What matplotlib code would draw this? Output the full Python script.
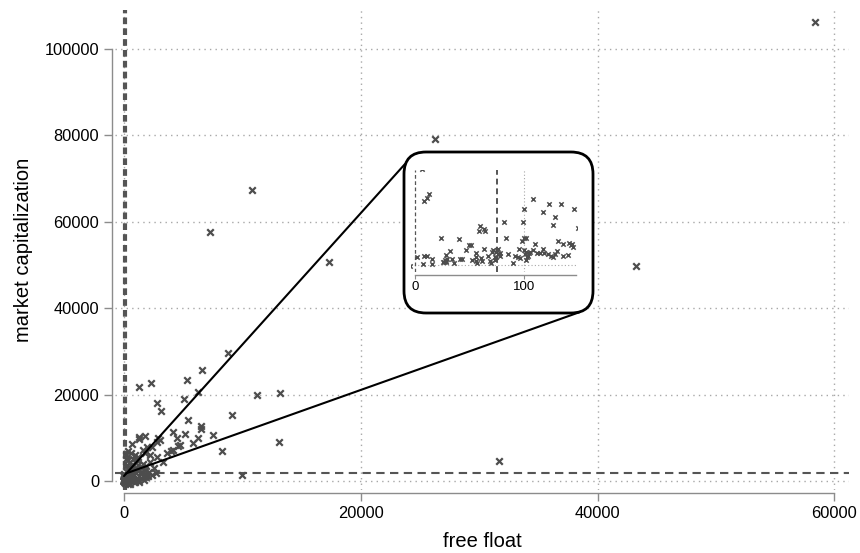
import matplotlib
matplotlib.use('Agg')
import matplotlib.pyplot as plt
import numpy as np
from matplotlib.patches import FancyBboxPatch, ConnectionPatch

plt.rcParams['font.family'] = ['Liberation Sans', 'DejaVu Sans']

# ---- data: firms with small free float (shown in the zoom inset) ----
ff_small = [-4.6, 6.4, 8.3, 10.4, 12.8, 1.5, 8.3, 10.4, 7.0, 15.6, 15.6, 23.9, 26.0, 27.8,
            25.1, 26.9, 28.1, 28.1, 29.4, 32.1, 33.6, 35.8,
            39.8, 41.3, 42.5, 46.2, 48.9, 51.4, 52.3,
            56.0, 56.0, 56.0, 56.9, 59.0, 58.1, 62.7, 63.6, 60.9, 59.9, 63.3,
            67.0, 68.8, 70.3, 71.3, 72.8, 73.4, 74.0, 74.9, 75.8, 77.4, 78.0, 74.3, 75.5, 69.4,
            81.0, 83.5, 85.0, 89.3, 91.7, 93.9, 96.3, 95.1,
            97.9, 100.0, 101.8, 98.5, 99.4, 100.3, 101.8, 102.4, 104.0, 105.5, 101.5, 103.4,
            108.0, 109.5, 108.0, 111.6, 114.7, 117.1, 118.3, 122.3, 124.5, 126.3, 128.7, 130.0,
            131.2, 135.2, 135.5, 139.8, 140.7, 143.7, 144.6, 143.1,
            117.7, 123.2, 128.4, 126.0, 133.6, 145.3, 149.5]
mc_small = [-12, 1720, 1152, 1206, 1266, 149, 155, 155, 18, 113, 24, 490, 48, 72,
            60, 90, 173, 54, 113, 245, 113, 42,
            460, 107, 113, 275, 352, 352, 90,
            221, 149, 72, 42, 698, 615, 650, 615, 78, 131, 280,
            161, 78, 233, 269, 149, 90, 227, 269, 287, 209, 161, 137, 191, 42,
            776, 490, 203, 42, 161, 149, 125, 292,
            436, 478, 484, 776, 269, 197, 239, 137, 209, 239, 90, 161,
            1182, 382, 269, 209, 209, 281, 221, 197, 161, 137, 191, 251,
            436, 382, 161, 185, 400, 376, 328, 358,
            949, 1087, 854, 722, 1093, 997, 657]

# ---- data: remaining firms ----
ff_large = [58350, 26300, 10825, 7273, 17340, 43215, 31630,
            8823, 6596, 5300, 2256, 1297, 6230, 11220, 13140, 5100, 2762, 3100, 9105, 5413,
            6512, 6512, 4170, 7500, 5160, 4453, 6286, 5864, 8260, 13110, 10005, 2680, 1776,
            1297, 1297, 2870, 3000, 2760, 650, 2340, 4600, 4750, 4100, 4000, 3608, 3326,
            2762, 2200, 1776, 1920, 1630, 1860, 1860,
            150, 300, 500, 800, 1000, 1200, 200, 400, 700, 900, 1100, 1400, 250, 600, 850,
            1300, 1700, 100, 350, 550, 750, 1000, 1200, 200, 450, 650, 900, 100, 300, 500,
            1500, 1800, 2100, 2400, 1600, 1900, 2200, 900, 600, 300, 1200, 2500, 2000, 1400,
            800, 400, 700, 1100, 150, 1300, 1700]
mc_large = [106260, 79170, 67370, 57640, 50700, 49770, 4630,
            29560, 25700, 23380, 22610, 21690, 20530, 19910, 20450, 19050, 18130, 16200, 15280, 14120,
            12730, 12110, 11420, 10650, 10810, 9880, 9880, 8870, 6945, 9030, 1390, 1780, 10490,
            10100, 9650, 9900, 9500, 9100, 8560, 7800, 8100, 8300, 7180, 6950, 6410, 4330,
            5630, 6020, 6410, 7950, 7180, 1390, 860,
            5200, 4800, 4500, 5000, 4200, 3800, 3500, 3200, 3000, 2800, 2500, 2200, 2000, 1800, 1500,
            1200, 1000, 1000, 800, 600, 400, 300, 200, 300, 150, -100, -300, -400, -600, -700,
            3000, 2500, 2000, 1500, 4000, 3500, 4500, 6000, 6500, 7000, 5500, 3000, 1200, 600,
            1200, 2500, 3800, 4800, 6000, -200, 300]

xticks_main = [0, 20000, 40000, 60000]
yticks_main = [0, 20000, 40000, 60000, 80000, 100000]
xticks_inset = [0, 100]
ref_free_float = 75
ref_market_cap = 1850

ff_all = np.array(ff_small + ff_large)
mc_all = np.array(mc_small + mc_large)

marker_color = '#4d4d4d'
spine_gray = '#8c8c8c'
grid_kw = dict(color='#a8a8a8', linestyle=(0, (1, 3)), linewidth=1.0)

fig = plt.figure(figsize=(8.6, 5.53), dpi=100)
W, H = 860, 553

ax = fig.add_axes([115 / W, 1 - 490 / H, (849 - 115) / W, (490 - 10) / H])
ax.set_xlim(-760, 61230)
ax.set_ylim(-2080, 109000)
ax.set_xticks(xticks_main)
ax.set_yticks(yticks_main)
ax.grid(True, **grid_kw)
ax.set_axisbelow(True)
for s in ['top', 'right']:
    ax.spines[s].set_visible(False)
for s in ['left', 'bottom']:
    ax.spines[s].set_color(spine_gray)
    ax.spines[s].set_linewidth(1.0)
    ax.spines[s].set_position(('outward', 2.2))
ax.spines['left'].set_bounds(0, 100000)
ax.spines['bottom'].set_bounds(0, 60000)
ax.tick_params(direction='out', length=5.8, width=1.0, color=spine_gray,
               labelcolor='black', labelsize=11.8, pad=3.5)

ax.scatter(ff_all, mc_all, marker='x', s=22, linewidths=1.6, color=marker_color, zorder=3)
ax.axvline(ref_free_float, color='#555555', linewidth=3.0, linestyle=(0, (1.6, 1.0)), zorder=2)
ax.axhline(ref_market_cap, color='#555555', linewidth=1.5, linestyle=(0, (4, 2.6)), zorder=2)

ax.set_xlabel('free float', fontsize=14.5, labelpad=8)
ax.set_ylabel('market capitalization', fontsize=14.5, labelpad=8)

# ---- zoom box (rounded) ----
box = FancyBboxPatch((4.04, 2.40), 1.89, 1.61,
                     boxstyle='round,pad=0,rounding_size=0.22',
                     transform=fig.dpi_scale_trans, facecolor='white',
                     edgecolor='black', linewidth=2.0, zorder=1)
fig.add_artist(box)

# connecting lines
c1 = ConnectionPatch(xyA=(0, 1150), coordsA=ax.transData,
                     xyB=(4.05, 3.89), coordsB=fig.dpi_scale_trans,
                     color='black', linewidth=1.5, zorder=0.5)
c2 = ConnectionPatch(xyA=(150, 1740), coordsA=ax.transData,
                     xyB=(5.80, 2.41), coordsB=fig.dpi_scale_trans,
                     color='black', linewidth=1.5, zorder=0.5)
fig.add_artist(c1)
fig.add_artist(c2)

# ---- inset axes ----
axi = fig.add_axes([411 / W, 1 - 272 / H, 166 / W, 102 / H], zorder=2)
axi.patch.set_alpha(0)
axi.set_xlim(-4, 148.5)
axi.set_ylim(-125, 1700)
axi.set_xticks(xticks_inset)
axi.set_yticks([0])
axi.set_yticklabels([])
axi.grid(True, color='#a8a8a8', linestyle=(0, (1, 2)), linewidth=0.8)
axi.set_axisbelow(True)
for s in ['top', 'right', 'left']:
    axi.spines[s].set_visible(False)
axi.spines['bottom'].set_color(spine_gray)
axi.spines['bottom'].set_linewidth(1.0)
axi.spines['bottom'].set_position(('outward', 2.2))
axi.spines['bottom'].set_bounds(0, 148)
axi.tick_params(axis='x', direction='out', length=3, width=0.8, color=spine_gray,
                labelsize=9.5, pad=1.5)
axi.tick_params(axis='y', length=0)
axi.xaxis.get_gridlines()[0].set_visible(False)
axi.axvline(0, color='#555555', linewidth=0.9, linestyle=(0, (3, 2)), zorder=2)
axi.scatter(ff_all, mc_all, marker='x', s=10, linewidths=1.1, color=marker_color, zorder=3)
axi.axvline(ref_free_float, color='#555555', linewidth=1.4, linestyle=(0, (3, 2)), zorder=2)
axi.axhline(ref_market_cap, color='#555555', linewidth=1.0, linestyle=(0, (3, 2)), zorder=2)

fig.savefig('out.png', dpi=100)
